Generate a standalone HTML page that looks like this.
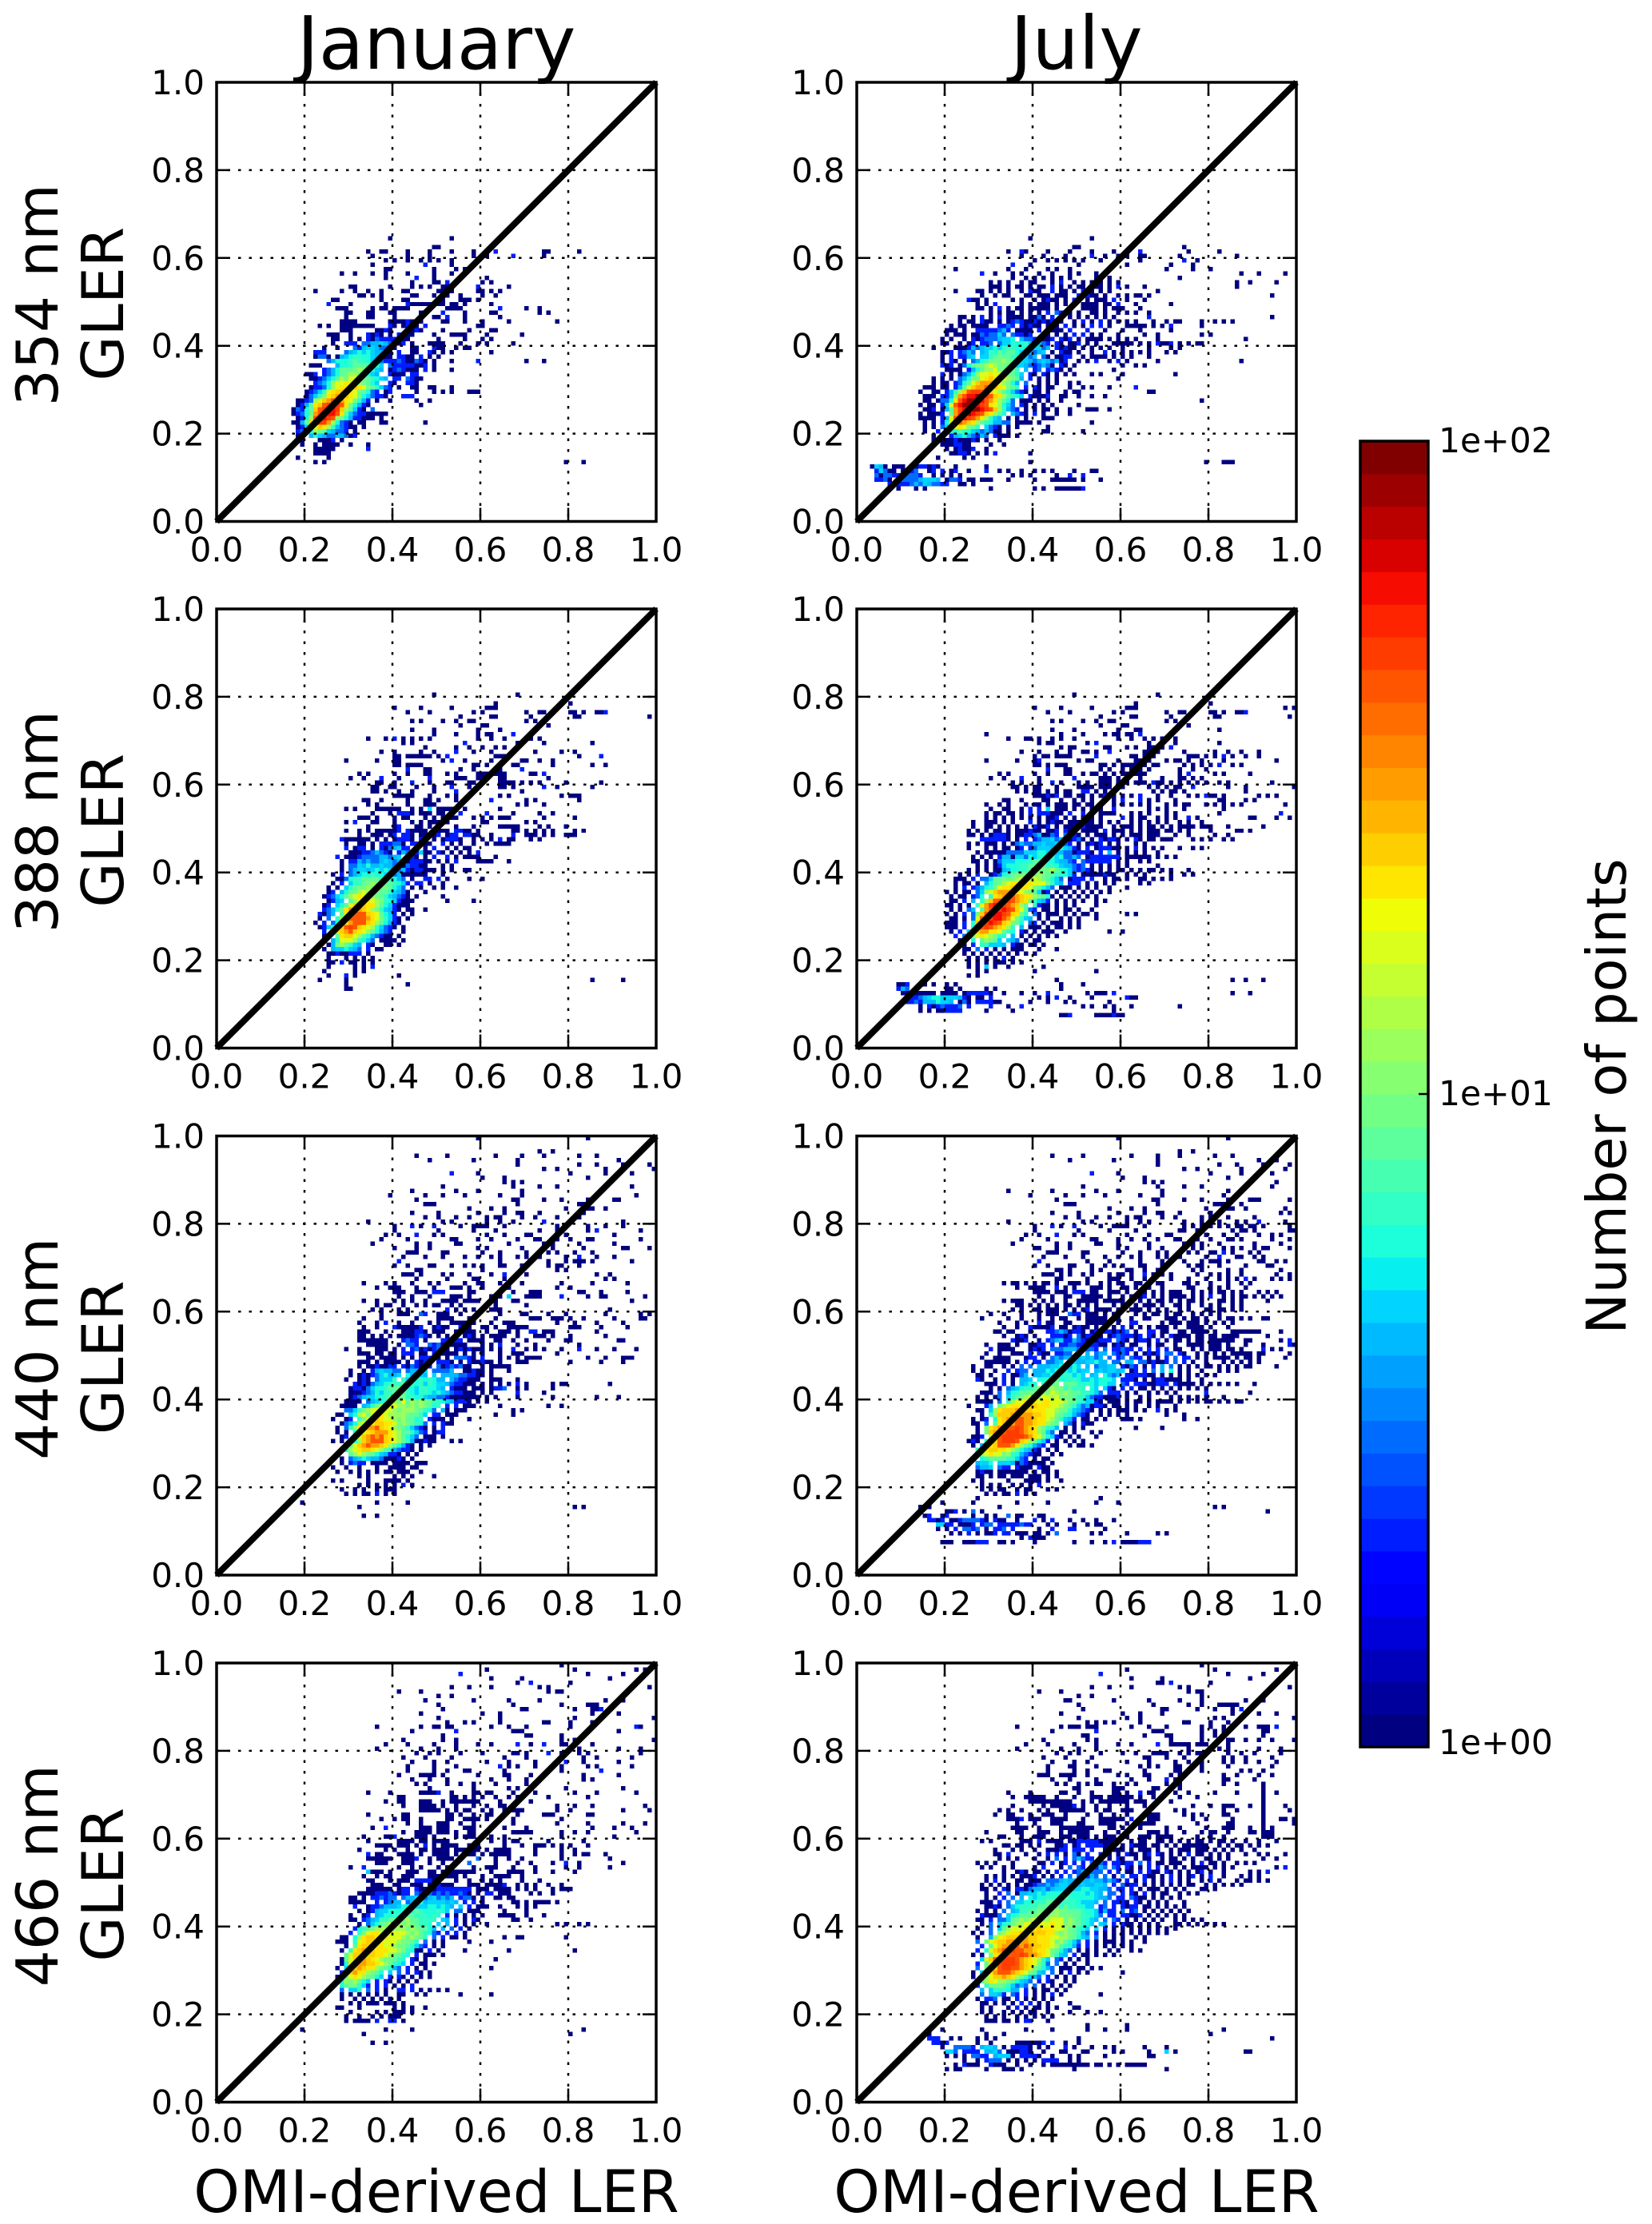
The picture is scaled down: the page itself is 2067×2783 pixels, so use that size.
<!DOCTYPE html>
<html lang="en">
<head>
<meta charset="utf-8">
<title>GLER vs OMI-derived LER</title>
<style>
html,body{margin:0;padding:0;background:#fff;}
svg{display:block;}
text{font-family:"DejaVu Sans","Liberation Sans",sans-serif;fill:#000;}
</style>
</head>
<body>
<svg id="chart" xmlns="http://www.w3.org/2000/svg" width="2067" height="2783" viewBox="0 0 2067 2783"></svg>
<script>
const columnTitles = ["January","July"];
const rowWavelengths = ["354 nm","388 nm","440 nm","466 nm"];
const rowSecondLine = "GLER";
const xAxisTitle = "OMI-derived LER";
const colorbarTitle = "Number of points";
const tickValues = [0,0.2,0.4,0.6,0.8,1.0];
const tickLabels = ["0.0","0.2","0.4","0.6","0.8","1.0"];
const colorbarTickValues = [1,10,100];
const colorbarTickLabels = ["1e+00","1e+01","1e+02"];
const countCodes = "123456789abcdefghi";
const countValues = [1,2,3,4,5,6,7,8,9,12,16,20,25,30,40,50,60,80];

/* row forms: [GLER bin, first OMI bin, per-bin count codes; "." = empty bin]
   or [GLER bin, [OMI bins...], count] for sparse rows (count defaults to 1) */
const jan354Bins = [
[64,39,"1.............1"],[62,49,"11"],
[61,34,"1..11....1....1....1....1....2..........11......1"],
[60,35,"1.......1....1.........1..1.....2......1"],
[59,38,"1.1..1..1.1.1..1"],[58,35,"1...........2.....1"],[57,38,"11.........1....1.1"],
[56,28,"1..1...1..1....1.....1...1"],[55,38,"1......2...1.....1.....1"],
[54,44,"1....11.2.......1.1"],[53,30,"11.......1....1.1.1..11......2......1"],
[52,22,"1.....1..1..1..1....11......11.1.....11.1.1"],
[51,32,"11.1.1......11...1..1..1....1..1"],[50,26,"11.........1....11.......1...111.1"],
[49,25,"2....1.......1....211111.11.11.1.....1"],
[48,27,"111.....1.11.1111....1...1111........2.....1..1"],
[47,29,"11...11...11.....11...2....1.....11.........1.1"],
[46,29,"1....11....1........11.2...1.......1"],
[45,28,"1111.......11112111....11...1...1.....1..........1"],
[44,23,"1.1..11111111...21.1211.2...........11"],
[43,28,"111.....1121...1121....1.....1....11"],
[42,25,"111..1...2121.1.2211....1...1111....1.......1"],
[41,26,"11..1.1.2132222211......1.....1...1.1"],
[40,26,"1..222.3344543212.1...1111...1...1.1.....1"],
[39,24,"1..1...3245543321...11...211..1.11"],
[38,22,"222....34565654421.2..11..21.1.1........1"],
[37,22,"1331.1456776654311.2211.2.1.1"],
[36,25,"34666787765432223211321.1...1.....2..........1...1"],
[35,21,"111...46678888765.322222112.1"],
[34,24,"23468889a97654.1232111.2.1...1"],
[33,20,"112.234689aa98654..2111.22"],
[32,21,"1123568a9bba987654.22.3211"],
[31,22,"2346abbcbba9865..21..221"],
[30,21,"12236abcccdcb987532.1..11..11...1"],
[29,20,"12357bcdddcb98632.12.....1...1.1.1...111"],
[28,20,"13579cdeedcb9653221...222"],
[27,18,"1123abdeffecb9742.1..1.....1..1"],
[26,18,"1248cdfgggfc96421...........1"],
[25,17,"13268dfghhgda8521.3"],
[24,17,"12369efghhfc8532211111"],
[23,18,"126afghgfa96422111.1"],
[22,17,"1148dfggea6321.11...11........1"],
[21,18,"1258bdca743211.1"],[20,18,"2357a9854332.1"],[19,18,"12.46543344312"],
[18,18,"11...1112.1"],[17,19,"1..1.1111..1...1"],[16,22,"11111.......2"],
[15,22,"1111"],[14,18,"1......1"],[13,[22,24,79,83]]
];

const jul354Bins = [
[64,39,"1.............1"],[62,49,"11.......................1"],
[61,34,"1..21....1....1....1....1.....2..........1......1"],
[60,37,"1....1....1.....2..1..1.1..11.......1............1"],
[59,40,"1..1.1.1.1.1...1........1.........2..1"],
[58,35,"2...1..........1.......1..1.........1....1"],
[57,22,"1...........1...1....1.1..1.....................1.....1...1"],
[56,28,"2..1...1.1...1..1...1.1...1.1..............................1...1.....1"],
[55,35,"1..1.1.1.1.1.1.....1..1...............1"],
[54,30,"1.1.1..1.11...1.2..1.1.1.1.1.1..........................1..1.....1....1.........1"],
[53,30,"111.1.11.1.11.2.1.1.11.111.1.2.1...1....................1......................1....1..2"],
[52,22,"1....11.1.1.1..1.211..2.11.1.2.1.1.1..........1"],
[51,28,"1..1.11...11.111.111..2.211.1..1.1.11.1...........................1"],
[50,25,"211.1.....1.1..1.1211.1.21.1.111.2..1...1"],
[49,27,"1.1.2.....1.1.111.1.1.1.1111.11.2...1.......1"],
[48,27,"11.1.2.1.11.11111.1..1..1111.1.111...1"],
[47,30,"1.1.11.1.1.1.2.3211.1..11.1..1.1.1..1..................................1"],
[46,23,"11.1.2.1.2.1111.1131.2.1.1.1.1.1.1.1.......2...........................1"],
[45,23,"1.11.211.1.1232112121211..1.2.1.2.1.1.1.1...1..1.11....1..1.1.1"],
[44,21,"1.11.1111..2232.21211.1.1.2.1.1.2.2.1...11111.1.1.2......1"],
[43,20,"111.1..22222342.1111.2.1111.2...2...1...1...1......1"],
[42,20,"1.111.11323353.32212...1.1.1.2.2.1.1...1.....1..1.........1.1"],
[41,19,"1.1..1.2123334556.43324112.212.1.1111.1.1.1.1....1...................1"],
[40,19,"11..1.12.223.355666755432.21.112.1.1...11111.1.1.2112.1.1.11"],
[39,17,"1....1112434556567766665534.21211.1.1.1.1..1.....1....1.1"],
[38,19,"112.2343.457687886544345.1.211.1..1..2.1.1.1.1.1...1.1"],
[37,19,"1.2.2245.5578988775534.31.1122..1.1111.1.1.1...1"],
[36,19,"1.21.1.3467999a98755434543412..1.1.2..1.2.1......1..................1"],
[35,19,"212.136899aba9986554323431.21.1..........1..1.1"],
[34,20,"1111.2468aab99a87.4.23.2321.1.........1"],
[33,19,"2.1.1346abbcbba9875.21.21.1.1.1...1.1....1...........1"],
[32,17,"1.1.1.34699bcdcbba984.2.1.1.1.............1"],
[31,17,"1.11.2369bdeeecba964.3..1.1.1..1.1"],
[30,15,"111.11.248bdeeffdcb987.2.21.11...1..1.1...1.....2"],
[29,14,"1..11.247adfggfedba875321.11.1...1.11...............11"],
[28,15,"111.2249efhhiggfdca8765.21112..11..1..1..1"],
[27,15,"11.1336cfhiiihfeca863.111.1.1..1...............................1"],
[26,14,"1.11.25bfhiiihgfcba653.21.1.1.1.....1"],
[25,15,"112.148eghiiihgfda7432.1.1.11.1..1...111..1"],
[24,14,"1.1112.9egiihgfdca86.4321.2.1..1..1"],
[23,14,"1111.24bfhhgfeca754.1.1.1...111"],
[22,15,"1.1.26bdfedca8764433.1111.1...........1"],
[21,15,"1.1.358bcb987.5321.1.1......1"],
[20,15,"1..2.5768765434311.1.......11.......1"],
[19,17,"1.1.245643243.2111.1"],[18,17,"1.111211121.1..1"],
[17,19,"1112211....1..1"],[16,20,"1.12112..1"],[15,21,"11221.1.1.2.......1"],
[14,18,"1.....1.1"],
[13,[39,79,83,84,85]],
[12,3,"1541.111.2122121...1......1"],
[11,4,"25311.1323..12.2.12..1...2..1.1..1..1.1.1....1...11"],
[10,4,"313322.3332..1.1.1.1...........1.1.1.....1..2..2"],
[9,4,"2231.1333345554.1332.11.111...1.....1...111111.1...1"],
[8,7,"22222343543322..11.1"],
[7,9,"1...1.1..............1.........1.1..1111112"]
];

const jan388Bins = [
[80,49,"1..................1"],[78,63,"1................1"],
[77,40,"1.....1......1.......111"],
[76,43,"1....1.........1.1.........1..11.....11.1..112...........1.1"],
[75,55,"1......11.......1.........11...............1"],
[74,44,"1.1....1..1..11...........1.1"],[73,55,"1....11.............1"],
[72,44,"1....1.........1....1"],[71,49,"1....1....1.11....2"],
[70,34,"1...1.2.1.1.1.1..........1..1..1....11.1"],
[69,42,"1.1...........2...........1.....1..........1"],
[68,47,"1......1..1..1..1.1..2"],
[67,37,"1..1.....1..1....2...1...1.........1.....1..1"],
[66,40,"11.111111.1.2..........1111...............1....2"],
[65,29,"1......1...11.........1.2..1.....1......11..1..1"],
[64,40,"11.1111...........11.1..1..11.......1........1..1"],
[63,43,"2...11......1..1.....1....2"],
[62,32,"1.1.....1..1...11...1.1....1111111.....11.2"],
[61,30,"1..1...2...1......2.....111..11...11.........1"],
[60,36,"11..1...2...1...11...11.....1111.1.1.1.....1.......1"],
[59,35,"11..11....1...1...2...1......11.1......2..1.......1"],
[58,35,"11.1..1..1....1....2..............1"],
[57,40,"11111...1...1.1.........1.1...........1.111"],
[56,33,"11..1.....1...11.1...1.1.....2.......1.1.........1"],
[55,34,"1.1......1...111..................1.1...1"],
[54,29,"1.1....111111..1.1.5.11111.1.......1"],
[53,35,"1...1.2221.111.11...2.....2.....1.....1..1"],
[52,32,"111.1...1.11...1.1.1111...1.1.1.111.......1......1"],
[51,29,"1.2...11...1...1.1.111.1.......11........1.1"],
[50,34,"1.....12...11.1.1...1...1.....11111....1.1...1"],
[49,29,"1..1.1.111112.21111.1111.2211.1.......11.1.1.1.1....1.1"],
[48,32,"1..111.12.221.11112.122.2211..1....2..111.1.1..111"],
[47,28,"2111111.1.1.12221.22.1.12221..1.1.1.2.11...1.1"],
[46,29,"1..11.1.222331.22211..2.1.1..1..1.1111"],
[45,29,"2.122.1.2134522.2.1.2..1.1.11"],
[44,30,"1112234321.24332511.21.1.1.1.2"],
[43,27,"2.1112333344345.121.1.2..2.1.1111...1"],
[42,28,"1.2243433454343122211.1.1.2....1111...1"],
[41,28,"1.335464454434132211...1.1"],
[40,28,"1.34554565654342122111.1.1..11"],
[39,26,"1.2.345667665534111111...1"],
[38,27,"1136778888777643.1..22.2.1....1..1"],
[37,26,"1.2.57789a98887652.22.1..1"],
[36,25,"1.1.57899a9a998653.1.1..1.1..1"],
[35,25,"12.4689abaa98875431...1"],
[34,24,"123568abcbba98754321.1.....1"],
[33,25,"1245.8abccba97652111.......1.....1"],
[32,24,"12.568bdddcca8652111"],
[31,24,"23469ceeedca975421.11..1"],
[30,23,"2134.8cefffdcb8652.1.1"],
[29,23,"1.3.7adffffecb97521.1"],
[28,22,"1.2.369cefffdca86421"],
[27,23,"1257bdfgfdcba75321.1"],
[26,24,"2.4cdefdcba86432..1"],
[25,24,"12.8cddba8643211.1"],
[24,24,"1.47bbba7653.1111.1"],
[23,25,"149a8754.21..11.1"],
[22,24,"1.4556543.2.11"],
[21,25,"11211222.1"],
[20,25,"1...1.1.1.1"],[19,25,"11.2.11.1.1"],[18,25,"1.....1.1.2"],
[17,24,"1......1.1"],[16,25,"1...2.1.........1"],
[15,[23,29,85,92]],[14,[29,43]],[13,[29,30]]
];

const jul388Bins = [
[80,49,"1..................1"],[78,63,"1................1"],
[77,40,"1.....1......1.......111.................................1.1"],
[76,43,"1....1.........1.1.........1..11.....11.1..112...........1.1"],
[75,55,"1......11.......1.........11...............1"],
[74,44,"1.1....1..1..11...........1.1.................................1..1"],
[73,55,"1....11.............1....................................1"],
[72,44,"1....1.........1...11.................1"],
[71,29,"1................1....1....1.11.11.2"],
[70,34,"1...11.1..1.1..1.........1..1..1.1.11.1"],
[69,41,"1.11.......1.2...........1..1..1.........1"],
[68,46,"1.11......11...1.1..11.1.2"],
[67,37,"1...1...1..1..11.1..2.......11.1.....1......1..1..1...1"],
[66,40,"1.11.1111.....2.......11.111.......111.1.1.2.1..1..1"],
[65,29,"1......1...12........1.11.....1...11.1...1.11.1..1....1...........1"],
[64,40,"11.1.111.......11.1.1111.1.11.....1.1.1.1.2..1.1"],
[63,43,"2...11......1.1..1.1.1.1......1..1..1"],
[62,32,"1.1.....1..1...11..1.11.1.1.111111.......1.2.....1.1.....1"],
[61,30,"1..1...2...1.......2.....111.1.1..1....1...11.1.1"],
[60,35,"1.1...1..2.1...1.1..111.1.1.111.211.1.1.1.1.1..1.1.........1"],
[59,35,"11.1.11...1....1111.111..1.....1.1.1.11..2.......1...1..........1"],
[58,36,"1.1.11.1.1.11..22.1.1..........1.1.11.1.............1"],
[57,40,"111212.11.11.1.12.1.1.1.2...1..1...1.1.211.1.......1.1.1"],
[56,33,"11..1....11..1..1.1.1....1.2...2.1.1...1.........11....1.1.........1"],
[55,29,"1..1.1...1.11.1.111.11.11.1..1.1.1.1.1...1.1.11...1.1.1.1.1.........1"],
[54,30,"1..11..1.2.2.5.111.1.1.1.1..2.......1.1.1...1........1"],
[53,29,"1.11.11.1.2.222111.2..2.1.1111...1.1.1...1.1.........1.............2.......1"],
[52,29,"1.1.1.1.1.1.1.112.1.1.1.1.1....2.1.11..1.1.1..2.1...........11....1..1"],
[51,26,"1..111.1.1...2.1.1211.111111.1.1.1..1.1.1.1.1..1.1..1"],
[50,26,"1..11.1.1.1.1.2112.1.111.21111..1.111.1.11.1.1.1111.111...1.......1"],
[49,25,"1.1.1.11.1.111211.112.211.1111.2.111.1.1.111.11.1.1....1.....11.1...........1"],
[48,25,"11.1.12221.1122341132.3221.1.111.1.1.111.111...1..1.....1..1"],
[47,28,"2222221.1.2.234453451231.1.21221.1.21.11.111....1.1.1..1.1"],
[46,25,"1.1.111.1.13433445445.32.1.1212.1.1...1.1"],
[45,25,"1...1.1.11.12.235554565421.2.122211.1.2.1.1.1...1..1.1"],
[44,27,"1.1111133335556654443312221.2.4.1.1.1.1..1"],
[43,26,"1.1.1.2441553656677563343.12222222.111111.1.1.1"],
[42,26,"11.1.1355566678876654432.3222222.1.1..1.1"],
[41,27,"1.1.125666778888776544323.1.1.1.1.1......1"],
[40,25,"1.1.1.1145667789999a876532321.1.1.11.1.1.11.1.1...1"],
[39,23,"1.1.2..123678999a9a98877652.11111211..1.1.1.....1..1.1"],
[38,22,"111.2.33588999abbaba98653.1222.2..1.11.1..11.1.1.1"],
[37,22,"1.11.1.4689abccdccbbb9754.222.1.1.1.1.....1.1"],
[36,22,"1.2.234679bccddccb98653.111.1.1.1..1...1"],
[35,20,"1.1.11.35abdeeedcba98512.1.1.1.1.1.1.1"],
[34,21,"1.11.236.7cdeffedcca9871.1.1.1.1.1"],
[33,21,"11.2.4.7adffggfedc97542.1.1.1.1..1.1"],
[32,20,"11.1.1.7beghhgfeda8.7211.1.1.1....1"],
[31,21,"1.1.34.8efgghgfdb832.11.1.11.1..1"],
[30,20,"1.1.2.39dfghhgfdc97.31.111.1.1.11.1......1.1"],
[29,21,"11.1.3bfgghhfeb9754.1.1..1.1.1...1"],
[28,20,"111.2.7dfghgfdc986.32.1.111.1.1"],
[27,20,"111.2.6cfgfedca7.4.111.1.11.1.1"],
[26,21,"1.2.5adeeccb976.21.1.111..1.........1..1"],
[25,22,"2.37abcba976.4.1.1.1.1.1"],
[24,23,"12.6.8a985.543.1.11"],[23,23,"11.2.775554.211.11.1"],
[22,24,"11.3.2.1.1.111...1...1"],[21,24,"1.1.1.1.1.1.1.1.1"],
[20,25,"1.1.1.1.2.1"],[19,25,"1.1.1.111.1.1"],[18,25,"1.1.5.1..1.......1"],
[17,[27,29,40,54]],[16,[25,27]],[15,[45,85,88,92]],
[14,9,"112...1.1..1.1.......................1....1"],
[13,9,"243........11.1.....1.1..............1"],
[12,10,"11111111.1111.1222221..1...1..1..2........1.111.2"],
[12,[85,89]],
[11,12,"22345665555421.11.2..........1.1.2..1....1.......211"],
[10,11,"22324446554.131.222211......1...1...1.1.......1"],
[9,14,"1.21232223.2....2...1..2.............1.1..1.1...1..........1"],
[8,14,"1.1.112222.....1.....1......................1"],
[7,46,"112.....1111211"]
];

const jan440Bins = [
[99,59,"1........................1"],[96,73,"1..1"],[95,45,"1......1..........1.....1....1.......1...1"],
[94,48,"1.........1.........1......................1"],
[93,68,"1.............1...1.....1.....1"],[92,74,"1..1..........1..........1"],
[91,53,"2.....1....................1.......1.....1"],[90,60,"1....1..................1"],
[89,65,"1.1.1"],[88,51,"1...............1.....1...1................1"],
[87,44,"1.........1....1.........1"],[86,39,"1.......1...1....1.......1....1.........................1"],
[85,45,"1.....................11.....1...1.....1.....11"],
[84,47,"111..................1.............111"],
[83,57,"1....1..1.............1...111..1.................1"],
[82,44,"1.....1........1.....1..11...1.........1"],
[81,47,"1..1...1..1...1.11....1..1....1....1....................1"],
[80,34,"1................1.1.......1..1..1......2.................1"],
[79,40,"1...2.1..2.....1..1111...1...........1.1....1...1...1"],
[78,40,"1.........1.......1....1.........1...1......1.2.........1"],
[77,38,"1..1...2...1.1.........1...1....11.......1..........1"],
[76,37,"1.....1.........11....1..1.....1...11..11..1...11..........1......1"],
[75,35,"1.........1..1.....11..........1.......111.....1.......1"],
[74,40,"1....1..1..........1.1.......1......1......1........11....1"],
[73,43,"111.....11.......1...1.....1....1.1...1...1"],
[72,42,"1....1...1....1..1..1.1...1.1.11.....1..2...1...1...........1"],
[71,41,"2......................1..........1...1.111.1........1"],
[70,40,"1..1....11...1..1.1.1...11...11....1.11...1.............................1.1"],
[69,45,"11.............1................1.1........................1"],
[68,42,"111.1....1.1...1....1..2..1.1...............1..1..................1"],
[67,45,"1......1.....11.....1.1....................1.1.........1"],
[66,33,"1....1.1...1...1.1.....1..11...1....1........1......1.......1"],
[65,36,"1..111...1...1...111.1..1.....1..........1..1"],
[64,40,"111..111.222.....11.....1..1...111........11...1.....1.......1"],
[63,41,"1..1...1....111.1....111.5...1111....2.....1..11........1.....1.....1"],
[62,33,"1..1...1.1.1..1...1111.1111...1...11.........................1.........1.1"],
[60,35,"1.1...1.1........2.1.1.1...111........................1"],
[61,36,"1.11..1..1.1.11..1.1.....1.1......1"],
[59,37,"1...111..32..111..1...1....1....11....1...1........1.......1.1...1..1......1"],
[58,33,"1...1.......1....1111...1.....1.......111..111.1..1......1.....11..........1"],
[57,32,"1...1.2..1..1...1.1..111111...1..111.........1...1....1.....1"],
[56,33,"1..1...2111112..1211..2.1..11.1..11111.........111....1.....1"],
[55,32,"111...1...111221.111..11111..1..111.1..22.111.........1"],
[54,32,"11.1.1.1.11112321.1.1.1.121.1.1111..1...111.1...1.......1"],
[53,32,"1111111...2322.1...22222.1111..11..1..1....1...11..........11"],
[52,34,"11111..1.332..3231.1111...1.1.2...1...1.........1"],
[51,29,"1..1...111.1.2.2312123.1.1212111.1.1..2..1.1.1...1...2...1...1....1"],
[50,32,"111.11.11.222.11.2.1111.1.1.1...1..111.......1"],
[49,34,"11.1111.1.1.222.1.1.33321.2...1.1.1.1111..........1...1...111"],
[48,32,"111.1.1111.1.2121.2221.1.211211.1...111.........1......1....1"],
[47,32,"1.1121122.2132122.31232311..1.11111"],
[46,30,"1..1.2454433.34445.33334..11211.1...1"],
[45,30,"1.1212356445.64554.5.4444332211.1"],
[44,29,"1..121.35557.7566767644.4322111..111...1"],
[43,31,"2121345677786767576554322111.1.1.1.1.2.1.....1.11.........1.............1"],
[42,30,"1221356678897665776654.2111.111.1223..1.1.....1"],
[41,30,"11123465778987657765654322111.1.1.....2.....1"],
[40,30,"123455667899977665443321111111.1.1....1.......1.........1....1"],
[39,29,"1111.345678a9b8a9a98776542221.1.1"],
[38,28,"1111.4579abbbaa9a9a9867.2.2.111.....1..........1..1"],
[37,29,"33579abbbbba9aaa98763.41.111..........1.1"],
[36,27,"11.56ab9bbcbaaaa98875.22.111........1...1"],
[35,26,"1..12.79bcdcbba9a8867.2111.1...1"],
[34,28,"1346abccddccb9a98763.2.211"],
[33,27,"1.37acdeefdcba9875321.1.2"],
[32,27,"1.1.68bcdeeecba887532.122"],
[31,28,"12.8bdefefdcba8653.111.1"],
[30,26,"1.1.37adefffdcba87411211...1.1"],
[29,29,"48bdefeedca86421.1.1"],
[28,29,"6abcddcba8743221.1"],
[27,30,"8aba98654221.1.1"],
[26,28,"1.3456544311121.1"],
[25,28,"1.2322.1111.1111.111"],
[24,26,"1..1..1...1..1111.11"],
[23,27,"1..1.1.1.1.11.111..1"],
[22,32,"1.1.....1.1.1....1"],
[21,26,"1.1.....1...1111.1"],
[20,32,"1.1.1.1.1.2.1"],
[19,28,"1..1.1..1.111"],[18,29,"1.1.11.2.1.1"],
[16,[19,36,43]],[15,[32,81,83]],[13,[33,36]]
];

const jul440Bins = [
[99,59,"1........................1"],[96,73,"1..1"],
[95,44,"1......1..........1.....1....1.......1...1....................1"],
[94,48,"1.........1.........1......................1...1..........1"],
[93,68,"1.............1...1.....1.....1"],[92,74,"1..1.........1.........1"],
[91,53,"2.....1....................1......1......1"],[90,60,"1....1..................1"],
[89,65,"1.1.1.........................1"],[88,51,"1................1.....1...1...............1"],
[87,34,"1.........1.........1....1.........1..............1"],
[86,39,"1.......1...1....1.......1....1.............1"],
[85,45,"1.....................11.....1...1.....1....111......1"],
[84,47,"111..................1............111...1"],
[83,57,"1....1..1.............1...111..1........1...1"],
[82,44,"1.....1........1.....1..11...1......1...............1.1"],
[81,47,"1..1...1..1...1.11....1..1.....1.11..1.....1......................1"],
[80,34,"1................1.1.......1..1.1.......1...1.1.1...1.1..2.....1"],
[79,40,"1...2.1..2.....1..1111...1........1.1.1.1.1.1.11.11.1.....1.1...1"],
[78,40,"1.........1......1.....1.........11..1.......1.11.1.......111.1.....1"],
[77,38,"1..1...2...1.1.........1....1...11.....1.1...1..1....1..1.1"],
[76,37,"1.....1.........11....1..1..1..1...11..11..1...11.1......1...1.....1"],
[75,35,"1.........1..1.....11...1......1.......111.1...1.......1.....1"],
[74,40,"11...1..1..........1.1....1..1......1.1....1.1.1..1.11....1.....1"],
[73,43,"111.....11.......1...1...1.1....1.1..11.2.1...1.1"],
[72,42,"1....1...1....1..1..1.1...1.1.11.....1..2...11..1.1.........1"],
[71,41,"2..........1....1......1....1....1...1.111.1......11..1.1"],
[70,40,"1..1....11...1..1.1.1...11...11....1.11...1.....1....11......1.1"],
[69,45,"11.1....1.1.....11..1..1.......1.1.....1..1........1.......1...1.1"],
[68,42,"111.1.1..1.1...1.11.1..2.111.1.....1..1.1.1..1.......1..1"],
[67,45,"11.....1....111..1..1.1...1...1...1..1.1.1.2.1...1.1.1.1"],
[66,33,"1.11.1.1.11.1..111.1..1.1.11..11.1.11....11.1..1...1..1.1"],
[65,36,"1..1111..2.1.1...111.1..11.1..1..1.....11...1.1.1...1"],
[64,40,"1111.111.222.11..111.1..11.1.1.111..1.1.1.11.1.1...1.1.1"],
[63,41,"1..1..11..11111.1..1.1112.1.1.1111.1.1.2..1.1.11.1.1.1.1"],
[62,33,"1.111..1.1.1..1..11111.11111.1.1.1.11.1.1.11.1...11.1.1.....1"],
[61,36,"11.1.1.1.1.11.1.1.1...1.11.1.111.1..11.1..1.1.1..1.1"],
[60,35,"1.1..11.111.1.1.12.1111.1..111.1.1.1..1.1...11.11.1.1"],
[59,30,"1..1...1...1.111..322.111.1.1....1.1.11.1.11..1.1.1.1"],
[58,28,"1.....1..1...1..1.11..1.11111.11..1..11...111.1.11.1..1.11.1.1..11"],
[57,32,"1...1.1..2.11..11...11111..1..22.....1.111.111.1.1.1.1"],
[56,33,"1..1..211112.11.1211.1.2.1.2.1.1.1.111.1..1111.1...1"],
[55,31,"11.11...1...223431221.121221223.1..22.11..11.1111.1...1111111....1.......11"],
[54,33,"1..121.1...22212.3122.1.12322212.21.1.21111.11.11.1111......1......1"],
[53,35,"2112..1.2345224321.1222.321.1221.2.1.11.1.11.111111..11......1.2"],
[52,29,"1..111.1..1122.2.223322.2211.121.11..1.11..1..1111.111.1...1...1.....21"],
[51,30,"2.1111...1212.33344434332.3.22322.2.2.2.2.11..1.1.111.11.1....2.1.1"],
[50,29,"1..1..111.2.211.2233.3.4.344.3232.1.1212.33.21..1.1.1.1.11111.11.....1"],
[49,28,"1..1111...122.1.34344.454534.3.23.322.1.1.2.3.22.1.1.1111.1.11.1.....1..1"],
[48,29,"111111.1.2.22.3345.554455644.33.44.3312112.3.2.1..1...1.1.1.1.1"],
[47,26,"1..11..1.1.3.3.4445565465.4.34455.2132.1.2.4.3.1.1.1.11.1.1.1.11.....1"],
[46,26,"1.1..1..2.233.4446576656455.4545545.12.2.3.4.6.1.1..1...1.1.1"],
[45,27,"11.1..2.1134.445567677565.45.6434.2222211.1.1.1.1.1.1.1"],
[44,27,"21..1.2.1.445.667786677655656665.2221.1.1221111.1..1"],
[43,29,"111.2.1.4566.7889.888767656655.32.22211222.21111.1.1.1.1.1...1"],
[42,30,"1.1.34567789a9a9978777.65.521.2.2.11.1.1.1.1.1.1.1"],
[41,28,"111.3.4678899aa9ba9a98877653.222.1.1..1.1.1.1......2.........1"],
[40,27,"1.1.13.5789abaabbab99987753221112.1..1.1....1.1.1.1.1...1"],
[39,27,"1111.3.7abbcccbccbbba98765521.111.1.11.1.1111.1.1.1.11.1.1.11"],
[38,25,"1...24.9abcccdddcccbba9875341221.11.1.1..1.1...1"],
[37,27,"11.5acdddeeddcccbba99754321.1.1.111.1.1..2.1.1"],
[36,28,"1.7adddefeeeddcbb98764321..1.1.1.1........1...1"],
[35,26,"1.12.6cdeeffeedccba87542.11.1.1...111.1.........1..1"],
[34,26,"11.3.8cdeeffeedcca98.431.211"],
[33,27,"1.9cdefffgfedca9764.1.1.1...........1.....1"],
[32,27,"1.9deffgggfedca853.11.1...1.1"],
[31,26,"112.bdfgggggfecb96521.1.1...1"],
[30,25,"121.7bdfgggfdca9652.1.1.1.1"],
[29,26,"1.49cdfffeca87432.11..1.11.1"],
[28,27,"7bcddccba965421.1.1"],
[27,27,"7abcbb9a7643211..1.1"],
[26,26,"1.67888877532.1.11"],
[25,27,"4556.55541321111.1"],
[24,27,"3445.322.2111.211"],
[23,27,"1211.1111111.1.11.1"],
[22,27,"11.1.11.111.111.1.1"],
[21,26,"1.1.....1...1111.1..1"],[20,28,"1.1.1..1.1.1.2"],[19,28,"1.1.11..1.11...1.1"],
[18,29,"1.1.11.2.1.1"],[17,[27,55]],
[16,[19,26,36,43,54,59]],
[15,[14,15,16,32,81,83]],
[14,14,"2.....112.1.3.1"],[14,[49,93]],
[13,15,"12..12.....1..1.1..3.11...11"],
[12,16,"2212.112333321.211..1...2.1.2...1..1..1...1"],
[11,18,"5522.1112.233.22222322...1.1...1..1.11"],
[10,18,"1.1.2.3323.1.223.2.....1..2...22......1"],
[9,21,"1.1.2.1.112.22.111.11.1.3.......1.1.....1......1.1"],
[8,37,"1.2111"],
[7,19,"111..111222..11.1....1........1...1..1.2.1111222"]
];

const jan466Bins = [
[99,[78]],[98,[61,81,95,97]],[97,[84,92]],[97,[55],2],[96,[62,69,89]],[95,[68,80]],[95,[71],2],
[94,[53,57,62,73,75,98]],[93,[41,46,75,77,78]],[92,[50,53]],[91,[47,58,66,73,88,92]],
[90,[50,67,78,84,85,86]],[89,[51,69,70,81,85,86]],[89,[87],2],[88,[46,60,64,85,91]],
[87,[50,64,81,99]],[86,[52,56,58,64,74,75,80,85]],[85,[36,46,49,50,52,53,62,66,70,80,96]],[85,[95],2],
[84,[44,67,68,69,91]],[84,[54],2],[83,[51,70,71,78]],[82,[42,51,54,78,81,99]],
[81,[38,43,49,54,59,62,71,78,79,85]],[81,[68,74],2],[80,[36,46,50,54,82,91,96]],
[79,[45,48,50,55,60,67,68,70,78,79,82,84,96]],[79,[75],2],[78,[42,47,53,65,70,83,86,94]],
[77,[44,49,52,61,66,72,83,91]],[77,[79],2],[76,[43,49,54,66,68,72,78,84,86,94]],[76,[64],2],
[75,[43,49,52,56,57,65,78]],[75,[87],2],[74,[41,46,47,48,49,51,59,65,66,71,83,91]],
[73,[44,48,52,62,66,70,83,85]],[72,[45,47,52,55,58,63,70]],[71,[48,58,66,68,79,92]],
[70,[34,39,46,47,48,49,53,58,59,61,62,67,72,81,86,95]],[70,[50],2],
[69,[41,42,53,54,56,58,60,63,66,68,75,84]],[68,[38,41,42,46,47,48,51,53,54,55,56,57,58,59,64,71]],
[67,[42,46,47,48,49,51,54,58,61,64,65,67,77,81,85,97]],
[66,[46,47,48,49,50,52,54,56,57,60,62,65,66,67,68,69,77,80,92,98]],
[65,[34,42,43,52,53,55,58,61,62,68,74,75,76,84,85]],
[64,[37,40,42,43,46,52,53,56,57,58,59,61,64,67,78]],
[63,[43,46,50,51,52,55,58,67,77,84,92,97]],
[62,[35,46,47,48,50,51,52,56,57,58,62,65,70,85,90,94]],[62,[38],2],
[61,[42,45,46,47,48,50,51,52,54,57,58,67,68,69,70,71,78,81,84,95]],
[60,[33,38,39,45,46,47,49,54,56,57,58,62,65,78,90]],[60,[40],2],
[59,[34,41,42,43,44,46,47,49,50,51,52,59,62,65,67,68,75,83]],
[58,36,"1111.111.1.2.1.1111..1.1.....1...1..111.1.1.1...1"],
[57,32,"1.....1.1..1..11.1111.111111.1.1111.....1.....1..1"],
[56,34,"2.11...1111.1..1111.1.111.1.11111.....1.....1..1.11...1"],
[55,34,"111111..1112..1.1111.....3...1..1..1........1..........1"],
[54,36,"111...111...1..1.....3.....1....1..1....1..2..1.........1"],
[53,30,"1..2.......1..1.1...1.1.....1..111...1....1......1..1......1"],
[52,34,"5111.1...111..11.11111111...1...1111..1...1....1"],
[51,33,"1..1.11..111...1111111.1...1..1111..1"],
[50,34,"11...1.111.22221....1..1..1.1.1....1...1"],
[49,35,"111..11..111.112111...111.11112..1.1.1..1..1"],
[48,34,"111111.122.2111122222222.111.1111.1.1.1...1.111"],
[47,32,"111122232122.3233232322321.1.22.111....1.1..1"],
[46,30,"11.1.223233.344543453434.2331.1..11.11"],
[45,30,"1111..2.2344.345645555454.2.2.1......11.1.1111.1"],
[44,31,"2..12234445667555665654.5.2.111..1...1.1.1"],
[43,32,"1.1245567677687666765.33.111.....1....1"],
[42,30,"1..12.456677788777676.2.1.1.1.1...1111..1...1"],
[41,30,"11.2345778899a887777.54.2.1.21.......11..1"],
[40,32,"1.35689a9a9a98776.5.4.2.1.1..1"],[40,[77,79,82,84]],
[39,31,"26789aaabaaa9a98864.4.3.2.1"],
[38,30,"2.79bccbbbbbba9a87632.2.2.1"],
[37,28,"11.6acddcccbbba9a987.3.2.11.1........1"],[37,[68,69,79]],
[36,27,"111.7bcddccbbba9987.3.1.1.....1....1"],
[35,29,"1.8cdddccbba9987532.1.1"],
[34,28,"1.7cdeedcccbba97611.2.1.....1.........1"],[34,[81]],
[33,29,"8bddeddccba9876.2.111.1"],
[32,28,"18bdeedcba99876.21.1"],[32,[63]],
[31,28,"16cdeeddcba9765.2.11.1"],
[30,27,"1.5bdedcca98743.2.1.1"],[30,[62]],
[29,28,"2adecca986.5.3.2.21.1"],
[28,27,"1.9bcba9865.2.21.1.1.1"],
[27,28,"6a9a865.2.21.1.1.1"],
[26,28,"7899752.2.2.1.1.2"],
[25,28,"3.557.3.2.1..22.2.1.1.1.1"],
[24,28,"1.1.1.1.1.1..11..1.1..............1"],[24,[55]],
[23,28,"1..1.1.1.1.1.1"],[22,30,"1.1.111.111.1"],
[21,27,"11...1.......1.1.1..1"],[20,30,"1.....1.1.111.1"],
[19,29,"1..1..1.1.111"],[18,29,"1.1111.2..22.1"],
[16,[19,38,44,83]],[15,[33,80]],[13,[35,38]]
];

const jul466Bins = [
[99,[78]],[98,[61,81,95]],[97,[84,92]],[97,[55],2],[96,[62,69,89]],[95,[68,69,80]],[95,[71],2],
[94,[53,57,62,73,75,98]],[93,[41,46,75,77,78]],[92,[50,53,78]],[91,[47,48,58,66,73,78,88,92]],
[90,[50,67,75,78,82,83,84,85,86]],[89,[51,69,70,77,81,85]],[89,[87],2],[88,[46,60,64,69,85,91,95]],
[87,[50,61,64,81,83,99]],[86,[52,54,56,58,64,74,75,80,84,86]],
[85,[36,46,48,49,50,52,53,54,62,66,70,78,80,83,88,91,92,93]],[85,[95],2],
[84,[44,67,68,69,78,81,83,92,93]],[84,[54],2],[83,[51,52,65,70,71,78,81,92]],
[82,[42,52,54,71,78,84,85,88,91,94,99]],[81,[38,43,49,54,59,62,71,72,73,74,75,77,78,79,84]],[81,[68],2],
[80,[36,46,50,54,75,82,84,91,96]],[79,[45,48,50,55,60,63,67,68,69,70,73,75,77,78,79,84,87,90,96]],
[78,[42,47,53,65,66,70,74,83,85,88,94]],[77,[44,49,52,61,66,72,75,78,83,85,88,91,95]],
[76,[43,48,49,54,64,66,68,72,73,78,84,94]],[75,[43,49,52,56,57,65,72,73,78,87,89,92]],
[74,[41,42,43,46,47,48,49,52,59,61,65,66,71,73,83,86,91,94]],
[73,[44,48,54,62,66,72,83,84,90]],[73,[70],2],
[72,[45,47,50,52,54,55,58,61,63,70,73,83,86,92]],[71,[49,50,58,59,60,67,68,73,92]],
[70,[34,39,46,47,50,53,58,59,61,64,66,67,72,75,81,86,92,95]],[70,[64],2],
[69,[35,38,39,40,41,42,45,49,53,54,55,57,58,59,60,61,62,64,67,73,77,92]],
[68,[39,40,41,42,43,44,45,46,47,48,51,53,55,56,57,58,59,60,61,63,64,65,71,92]],
[67,[35,42,44,45,46,47,48,51,54,57,61,65,67,76,80,83,84,85,89,92,97]],[67,[49],2],
[66,[32,34,37,41,43,46,47,48,49,50,51,54,56,57,60,61,62,66,72,74,83,86,92,98]],
[65,[31,34,35,39,42,43,44,47,52,55,58,61,66,67,68,74,76,78,83,84,92]],
[64,[34,35,36,39,40,41,44,45,46,47,51,55,56,57,58,59,60,66,67,68,76,79,85,92,96,97,99]],[64,[37,62],2],
[63,[36,40,44,45,46,50,51,55,56,57,58,61,64,65,66,67,77,84,85,92,99]],
[62,[35,36,37,38,41,46,47,48,49,50,51,52,53,57,58,60,64,70,73,79,83,84,85,89,92,94]],
[61,[29,36,37,41,42,43,46,48,49,50,51,52,56,59,66,67,68,70,74,78,80,81,84,89,90,92,93,94]],
[60,[32,33,37,40,41,42,46,47,48,50,51,52,54,56,57,58,61,64,65,66,68,69,70,71,77,80,83,92,93,94]],
[59,28,"1.1......111.2.1111.112222211111..1.11..11.1.1.1.11.1.11.1..1..1...1"],
[58,33,"11.11.1.1...112.12.2222111.1.2111.11.1.1.111111..1.1.11.1.1.1"],
[57,31,"1...1.1..1..11122.222.2..11111.1.111.1..1.111.111.1.1.1.1..1"],
[56,31,"11.2...1..1.2.2.1.31.2..2.1.1.211.12.21.1.1.2.11.1.1.1...1..1.1...1"],
[55,32,"1.1.1...1..1.3.2.34322.1.1.21..1.11..1.11.1.1..11.1.1.......1..1"],
[54,27,"1.1.1...1.....11.2.12.2.2.3.32.22122.3.2.11.111..1.2.11.1..1.1.1"],
[53,28,"1.1..1.1....1.2...1.3.32.3243.32.21.1.2.2.1.1.1.1111.1.1.1.........1.2"],
[52,33,"1..121.11.1.2.2.234.333.2.2.11.2.211.21.1.1.12.1..1.....1.1.2...........1"],
[51,29,"1.1.1.1.1112.1.1.2.3.3.243.3.1.3.22.211.1.2.1.12.1.2..1...1.1.1"],
[50,29,"1.2.1..11.111.33345444445443432.2.1.2.1.1.2.1.1..1.2.1...1.11.1.1"],
[49,28,"1.1.1.1.1.1123343455444544554.2.3122.1.1.1.1.1.11..1.1.1.1.1"],
[48,28,"11.1.21.2213445345555556655443.22.2.1.111.1.1.1...11.1"],
[47,29,"1..2.3.14455656666766665654.33.2.21.2.1.11..1.1.1"],
[46,29,"1.1.2.3.4.6566777887666665443.22.3211.1.1.1.1"],
[45,28,"111.2.3.5566777888777765554.3.2221.21.1.1.1...1"],
[44,29,"1121.35677778889878776655.23.2.2122.11.1.1.1.1"],
[43,27,"1.1.1.3.4577889999a9988876652422.3.23.1.1.1.1.1.1"],
[42,28,"21113.5678889aa9aa9998877653.22.22112.1.1.1.1.1"],
[41,27,"11.2.33589a9abbaabbb9a987654.3.32.1.1.1.1.1..1.1.1.1"],
[40,28,"1.3.4679aabbcbbbcbb9a98765.54.2.211.1.1.1...11.1.1.1.1.1"],
[39,27,"1..3.58abbbcccdcccbba98765.5.2.1.1.1.1.1.1.1.1"],
[38,26,"1.1.3.9abccdccdddcca9a98743.2.1.1.1.1.1.1.1.1"],
[37,27,"1..4abcdddeeddcccbbaa98654.3.1.1.1..1.1"],
[36,27,"3.9bcddeefeeddcccb9a8753.2.1.111.1.1..1"],
[35,28,"2.8bdeeffefeddccba87642.2.1.1.1.1.1"],
[34,27,"2.6bdeffgffeedccb98643.1.1.1..1.1..1.1"],
[33,26,"1.1.9cdefffgfeedcb9754.2.11.1.1.1"],
[32,28,"5bdffgggfedcba75.32.1.1.1"],
[31,27,"2.8cefgggfedcb973.3.1.1..1"],
[30,27,"3.9bdfggffedc98643.111.11.1.1"],
[29,26,"1.5acefffedcb9854.3.1.2.1.1.......1"],
[28,26,"1.6abddedca97543.2.1.1.1"],
[27,28,"8acbaa986543.2.21..1.1"],
[26,27,"2.7999875343.3.1.1.1.1"],
[25,28,"4.5777644.2.1.11.1.1"],
[24,28,"3.5542.32.2.1.1.2.1"],[24,[55]],
[23,27,"1.223.11.2.1.1.1.1"],
[22,28,"11.1.1.1.2.2.1.1....1"],
[21,28,"1.1...1.2.1.11.1......1"],[21,[45,49]],
[20,28,"1.1..1.1.1.11..1....1"],[20,[52,55]],
[19,29,"1.1.1..1.1.1.1.1"],
[18,29,"111.11.1.22...1"],[17,[52,61]],
[16,[19,28,38,44,52,56,61,83]],[15,[16,29,33,80]],
[14,16,"222..1.1...1.1.1"],[14,[50,94]],
[13,17,"2212......1..1.....1111112.2..1..1"],
[12,19,"1..33332.4554.1.22221.1.1...2.1...1..1.1......1....1"],
[11,20,"553.2222.4453.111221..1...11...11.....1.1.....1...5.1"],[11,[88,89]],
[10,20,"1.1.1.3322.45551.22221..1...1.1.....1.........11"],[10,[67]],
[9,24,"1..1.2333.1.1.1.1.2222..1.1"],
[8,22,"1.2111..2111..1..1..1.111111111"],[8,[51,54,55,57,59,61,62,63,64,65]],
[7,20,"1.11.....1...111.1...........1....................1"]
];

const panelBins = [[jan354Bins,jul354Bins],[jan388Bins,jul388Bins],[jan440Bins,jul440Bins],[jan466Bins,jul466Bins]];
const panelSlugs = ["january","july"];

const NS = "http://www.w3.org/2000/svg";
const svg = document.getElementById("chart");
const panelLefts = [271,1072];
const panelTops = [103,762,1421.5,2081];
const panelW = 550, panelH = 549.5, binCount = 100;
const cbLeft = 1702, cbRight = 1787, cbTop = 552, cbBottom = 2186, cbLevels = 40;

function mk(tag, attrs, parent, text){
  const el = document.createElementNS(NS, tag);
  for (const k in attrs) el.setAttribute(k, attrs[k]);
  if (text !== undefined) el.textContent = text;
  (parent || svg).appendChild(el);
  return el;
}
function seg(t, pts){
  for (let i = 1; i < pts.length; i++){
    if (t <= pts[i][0]){
      const a = pts[i-1], b = pts[i];
      return a[1] + (b[1]-a[1]) * (t-a[0]) / (b[0]-a[0]);
    }
  }
  return pts[pts.length-1][1];
}
function jet(t){
  const r = seg(t, [[0,0],[0.35,0],[0.66,1],[0.89,1],[1,0.5]]);
  const g = seg(t, [[0,0],[0.125,0],[0.375,1],[0.64,1],[0.91,0],[1,0]]);
  const b = seg(t, [[0,0.5],[0.11,1],[0.34,1],[0.65,0],[1,0]]);
  return "rgb(" + Math.round(r*255) + "," + Math.round(g*255) + "," + Math.round(b*255) + ")";
}
function countColor(c){
  const lvl = Math.min(cbLevels-1, Math.floor(Math.log10(c) / 2 * cbLevels + 1e-9));
  return jet(lvl / (cbLevels-1));
}
function xScale(left, v){ return left + v * panelW; }
function yScale(top, v){ return top + panelH - v * panelH; }

function drawCell(cells, left, top, col, yb, count){
  if (col < 0 || col >= binCount) return;
  const x0 = xScale(left, col / binCount), x1 = xScale(left, (col+1) / binCount);
  const y1 = yScale(top, yb / binCount), y0 = yScale(top, (yb+1) / binCount);
  const cell = mk("rect", {x:x0, y:y0, width:x1-x0, height:y1-y0, fill:countColor(count), "shape-rendering":"crispEdges"}, cells);
  
  
}

panelTops.forEach(function(top, r){
  panelLefts.forEach(function(left, c){
    const g = mk("g", {});
    
    
    // heatmap cells
    const cells = mk("g", {}, g);
    
    
    panelBins[r][c].forEach(function(row){
      const yb = row[0];
      if (Array.isArray(row[1])){
        row[1].forEach(function(col){ drawCell(cells, left, top, col, yb, row[2] || 1); });
        return;
      }
      const codes = row[2];
      for (let i = 0; i < codes.length; i++){
        const idx = countCodes.indexOf(codes[i]);
        if (idx >= 0) drawCell(cells, left, top, row[1] + i, yb, countValues[idx]);
      }
    });
    // grid and ticks
    tickValues.forEach(function(v, k){
      const px = xScale(left, v), py = yScale(top, v);
      if (k > 0 && k < tickValues.length-1){
        const gv = mk("line", {x1:px, x2:px, y1:top, y2:top+panelH, stroke:"#000", "stroke-width":2.5, "stroke-dasharray":"3.5 10"}, g);
        
        
        const gh = mk("line", {x1:left, x2:left+panelW, y1:py, y2:py, stroke:"#000", "stroke-width":2.5, "stroke-dasharray":"3.5 10"}, g);
        
        
        [[px,top,px,top+17],[px,top+panelH,px,top+panelH-17],[left,py,left+17,py],[left+panelW,py,left+panelW-17,py]].forEach(function(t){
          const tk = mk("line", {x1:t[0], y1:t[1], x2:t[2], y2:t[3], stroke:"#000", "stroke-width":2.5}, g);
          
          
        });
      }
      const xl = mk("text", {x:px, y:top+panelH+50, "font-size":42, "text-anchor":"middle"}, g, tickLabels[k]);
      
      
      const yl = mk("text", {x:left-15, y:py+15, "font-size":42, "text-anchor":"end"}, g, tickLabels[k]);
      
      
    });
    // identity line
    const diag = mk("line", {x1:xScale(left,0), y1:yScale(top,0), x2:xScale(left,1), y2:yScale(top,1), stroke:"#000", "stroke-width":8}, g);
    
    
    // frame
    const frame = mk("rect", {x:left, y:top, width:panelW, height:panelH, fill:"none", stroke:"#000", "stroke-width":3.5}, g);
    
    
  });
  // row labels
  const midY = top + 1.5 + panelH/2;
  const l1 = mk("text", {transform:"translate(72," + (midY-10) + ") rotate(-90)", "font-size":72.5, "text-anchor":"middle"}, svg, rowWavelengths[r]);
  
  
  const l2 = mk("text", {transform:"translate(154," + (midY+1) + ") rotate(-90)", "font-size":72.5, "text-anchor":"middle"}, svg, rowSecondLine);
  
  
});

panelLefts.forEach(function(left, c){
  const t = mk("text", {x:left+275, y:86, "font-size":92, "text-anchor":"middle"}, svg, columnTitles[c]);
  
  
  const xt = mk("text", {x:left+275, y:2768, "font-size":73.3, "text-anchor":"middle"}, svg, xAxisTitle);
  
  
});

// colorbar
const cb = mk("g", {});


function cbY(c){ return cbBottom - (Math.log10(c) / 2) * (cbBottom - cbTop); }
for (let i = 0; i < cbLevels; i++){
  const h = (cbBottom - cbTop) / cbLevels;
  const s = mk("rect", {x:cbLeft, y:cbBottom-(i+1)*h, width:cbRight-cbLeft, height:h+0.5, fill:jet(i/(cbLevels-1))}, cb);
  
  
}
const cbFrame = mk("rect", {x:cbLeft, y:cbTop, width:cbRight-cbLeft, height:cbBottom-cbTop, fill:"none", stroke:"#000", "stroke-width":3.5}, cb);


colorbarTickValues.forEach(function(v, k){
  const py = cbY(v);
  const lab = mk("text", {x:1800, y:[2195,1383,566][k], "font-size":42.5}, cb, colorbarTickLabels[k]);
  
  
  if (k === 1){
    const tk = mk("line", {x1:cbRight-12, x2:cbRight, y1:py, y2:py, stroke:"#000", "stroke-width":2.5}, cb);
    
    
  }
});
const cbt = mk("text", {transform:"translate(2034,1372) rotate(-90)", "font-size":68.5, "text-anchor":"middle"}, svg, colorbarTitle);


</script>
</body>
</html>
